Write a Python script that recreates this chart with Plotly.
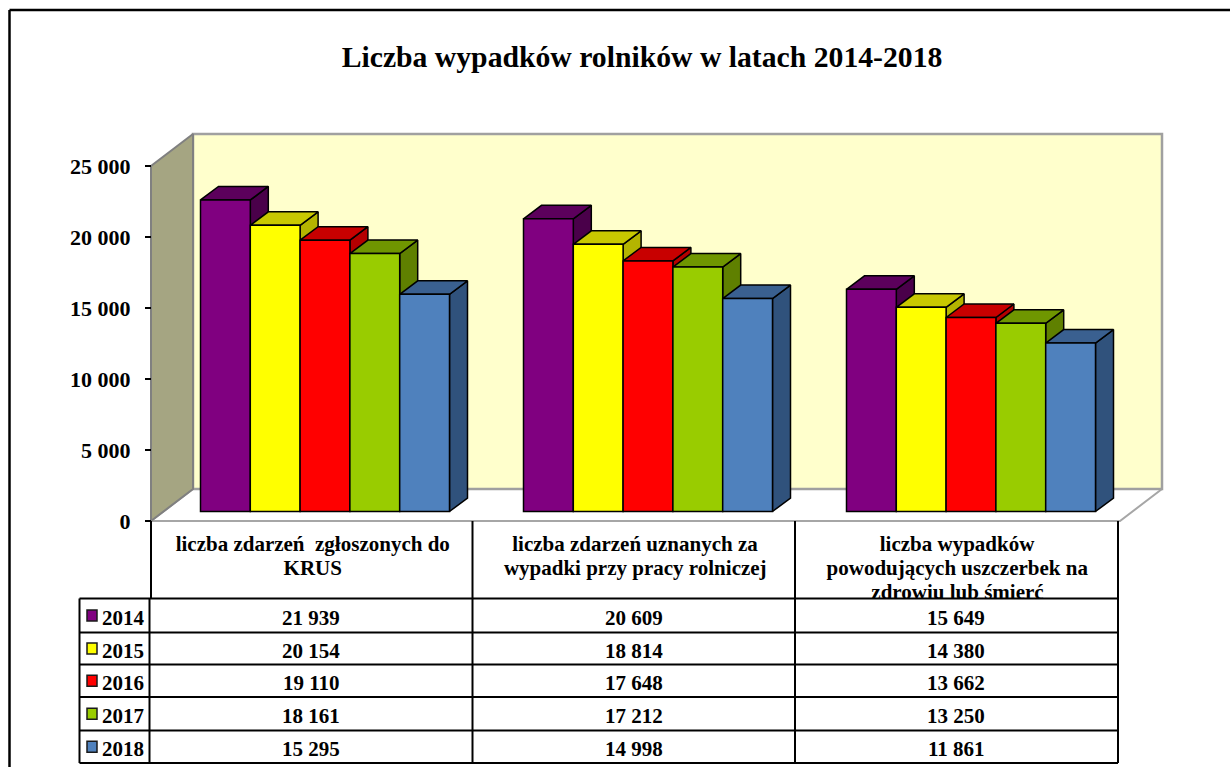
import plotly.graph_objects as go

TITLE = "Liczba wypadków rolników w latach 2014-2018"
categories = [
    ["liczba zdarzeń  zgłoszonych do", "KRUS"],
    ["liczba zdarzeń uznanych za", "wypadki przy pracy rolniczej"],
    ["liczba wypadków", "powodujących uszczerbek na", "zdrowiu lub śmierć"],
]
years = ["2014", "2015", "2016", "2017", "2018"]
v2014 = [21939, 20609, 15649]
v2015 = [20154, 18814, 14380]
v2016 = [19110, 17648, 13662]
v2017 = [18161, 17212, 13250]
v2018 = [15295, 14998, 11861]
tick_values = [0, 5000, 10000, 15000, 20000, 25000]
tick_labels = ["0", "5 000", "10 000", "15 000", "20 000", "25 000"]
front_colors = ["#800080", "#FFFF00", "#FF0000", "#99CC00", "#4F81BD"]
top_colors = ["#5C005C", "#C8C800", "#C80000", "#6F9600", "#3A6090"]
side_colors = ["#4A004A", "#B4B400", "#B40000", "#5F8000", "#30527C"]
series = [v2014, v2015, v2016, v2017, v2018]

W, H = 1230, 767
FONT = "Liberation Serif"
# plot geometry (page pixels)
X0, CW = 151.0, 323.0          # left of the category axis, width of one category
Y0, Y25 = 521.0, 166.0         # pixel rows of value 0 and 25 000
PPU = (Y0 - Y25) / 25000.0
xr = [-X0 / CW, (W - X0) / CW]
yr = [-(H - Y0) / PPU, Y0 / PPU]
dx = lambda p: p / CW          # pixels -> category units
dy = lambda p: p / PPU         # pixels -> value units
xp = lambda x: x / W
yp = lambda y: 1 - y / H

fig = go.Figure()


def poly(xs, ys, fill, line, lw):
    fig.add_trace(go.Scatter(x=xs + xs[:1], y=ys + ys[:1], mode="lines", fill="toself",
                             fillcolor=fill, line=dict(color=line, width=lw),
                             hoverinfo="skip", showlegend=False))


# walls
WX, WY = dx(42), dy(32)
NCAT = len(categories)
poly([0, WX, WX + NCAT, NCAT], [0, WY, WY, 0], "#FFFFFF", "#A6A6A6", 2)
poly([WX, WX + NCAT, WX + NCAT, WX], [WY, WY, 25000 + WY, 25000 + WY], "#FFFFCC", "#A0A0A0", 2.5)
poly([0, WX, WX, 0], [0, WY, 25000 + WY, 25000], "#A5A582", "#808080", 2)

# bar geometry
START, BW = dx(49.5), dx(49.8)
BASE = dy(9.5)
DBX, DBY = dx(18), dy(13.5)

# side and top faces, painted left to right
for c in range(NCAT):
    for s, vals in enumerate(series):
        l = c + START + s * BW
        r = l + BW
        t = BASE + vals[c]
        poly([r, r + DBX, r + DBX, r], [BASE, BASE + DBY, t + DBY, t], side_colors[s], "#000000", 1.5)
        poly([l, l + DBX, r + DBX, r], [t, t + DBY, t + DBY, t], top_colors[s], "#000000", 1.5)

# front faces on an overlay subplot, so that they sit above all side faces
for s, vals in enumerate(series):
    fig.add_trace(go.Bar(x=[c + START + (s + 0.5) * BW for c in range(NCAT)], y=vals,
                         base=BASE, width=BW, name=years[s], xaxis="x2", yaxis="y2",
                         marker=dict(color=front_colors[s], line=dict(color="#000000", width=1.5)),
                         showlegend=False, hoverinfo="skip"))

# table
ROWS = [598.5, 632.5, 664.5, 697, 730.5, 763]
TX = [79.5, 149.5, 472.5, 795, 1118]
shapes = []


def seg(x0, y0, x1, y1, w=2):
    shapes.append(dict(type="line", xref="paper", yref="paper", x0=xp(x0), x1=xp(x1),
                       y0=yp(y0), y1=yp(y1), line=dict(color="#000000", width=w)))


for y in ROWS:
    seg(TX[0], y, TX[-1], y)
seg(TX[0], ROWS[0], TX[0], ROWS[-1])
seg(TX[1], ROWS[0], TX[1], ROWS[-1])
seg(151, Y0, 151, ROWS[0])
for x in TX[2:]:
    seg(x, Y0, x, ROWS[-1])
# outer frame
seg(9.5, 10, W, 10, 2.5)
seg(9.5, 10, 9.5, H, 2.5)

ann = []
CATFS, CELLFS = 21, 21
LINE_TOPS = [531, 555, 579]
for c, lines in enumerate(categories):
    left = TX[c + 1] if c else 151
    for i, line in enumerate(lines):
        ann.append(dict(text=f"<b>{line}</b>", xref="paper", yref="paper",
                        x=xp(left), y=yp(LINE_TOPS[i]), xanchor="left", yanchor="top",
                        width=TX[c + 2] - left, height=min(26, 597 - LINE_TOPS[i]),
                        align="center", valign="top", showarrow=False, borderpad=0,
                        font=dict(family=FONT, size=CATFS, color="#000000")))
for s, vals in enumerate(series):
    yc = (ROWS[s] + ROWS[s + 1]) / 2 + 2.5
    ann.append(dict(text=f"<b>{years[s]}</b>", xref="paper", yref="paper", x=xp(101), y=yp(yc),
                    xanchor="left", yanchor="middle", showarrow=False, borderpad=0,
                    font=dict(family=FONT, size=CELLFS, color="#000000")))
    for c, v in enumerate(vals):
        ann.append(dict(text="<b>" + f"{v:,}".replace(",", " ") + "</b>", xref="paper", yref="paper",
                        x=xp((TX[c + 1] + TX[c + 2]) / 2), y=yp(yc), xanchor="center", yanchor="middle",
                        showarrow=False, font=dict(family=FONT, size=CELLFS, color="#000000")))
    # legend key
    ky = (ROWS[s] + ROWS[s + 1]) / 2
    shapes.append(dict(type="rect", xref="paper", yref="paper", x0=xp(87), x1=xp(97),
                       y0=yp(ky - 5.5), y1=yp(ky + 5.5), fillcolor=front_colors[s],
                       line=dict(color="#1A1A1A", width=1.5)))

axis_off = dict(visible=False, showgrid=False, zeroline=False, fixedrange=True)
fig.update_layout(
    width=W, height=H, margin=dict(l=0, r=0, t=0, b=0), autosize=False,
    paper_bgcolor="#FFFFFF", plot_bgcolor="rgba(0,0,0,0)", barmode="overlay",
    title=dict(text=f"<b>{TITLE}</b>", x=642 / W, y=1 - 57 / H, xref="paper", yref="paper",
               xanchor="center", yanchor="middle", font=dict(family=FONT, size=29.7, color="#000000")),
    xaxis=dict(range=xr, domain=[0, 1], **axis_off),
    yaxis=dict(range=yr, domain=[0, 1], anchor="free", position=X0 / W, tickmode="array",
               tickvals=tick_values, ticktext=[f"<b>{t}</b>" for t in tick_labels], ticks="outside",
               ticklen=6, tickwidth=2, tickcolor="#000000", showgrid=False, zeroline=False,
               showline=False, ticklabelstandoff=10, fixedrange=True,
               tickfont=dict(family=FONT, size=22, color="#000000")),
    xaxis2=dict(range=xr, domain=[0, 1], overlaying="x", anchor="y2", **axis_off),
    yaxis2=dict(range=yr, domain=[0, 1], overlaying="y", anchor="x2", **axis_off),
    shapes=shapes, annotations=ann, showlegend=False,
)
fig.write_html("out.html", post_script="document.body.style.margin='0';document.body.style.overflow='hidden';",
               config={"displayModeBar": False})
